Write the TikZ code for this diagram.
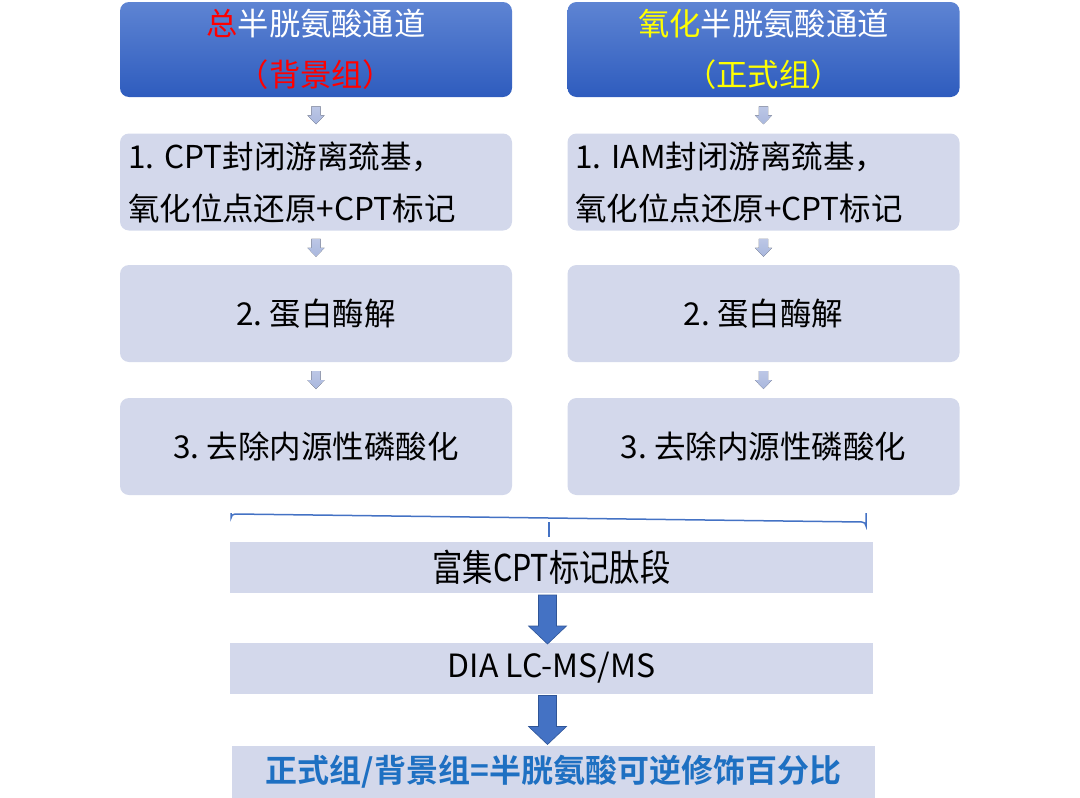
\documentclass[tikz,border=0pt]{standalone}
\usepackage{fontspec}
\setmainfont{Noto Sans CJK SC}[BoldFont={Noto Sans CJK SC Bold}]
\usetikzlibrary{calc}
\frenchspacing
\definecolor{hdrtop}{HTML}{5E84D3}
\definecolor{hdrbot}{HTML}{2E5CBE}
\definecolor{boxfill}{HTML}{D3D8EB}
\definecolor{sarr}{HTML}{A9B7DD}
\definecolor{sarrtop}{HTML}{BCC7E6}
\definecolor{barr}{HTML}{4472C4}
\definecolor{barrdark}{HTML}{2F5597}
\definecolor{bracecol}{HTML}{4472C4}
\definecolor{resblue}{HTML}{1E70C2}
\definecolor{redtxt}{HTML}{FF0000}
\definecolor{yeltxt}{HTML}{FFFF00}
\tikzset{
  hdr/.style={rounded corners=9pt, top color=hdrtop, bottom color=hdrbot, draw=none,
    minimum width=392pt, minimum height=95pt, inner sep=0pt, align=center,
    text=white, font=\fontsize{31.3}{51}\selectfont},
  stepbox/.style={rounded corners=9pt, fill=boxfill, draw=none,
    minimum width=392pt, minimum height=97pt, inner sep=0pt,
    font=\fontsize{31.5}{52}\selectfont},
  widebox/.style={fill=boxfill, draw=none, minimum width=643pt, minimum height=51pt,
    inner sep=0pt, font=\fontsize{31}{40}\selectfont},
  pics/smallarr/.style={code={
    \fill[top color=sarrtop, bottom color=sarr]
      (-4.6,-9) -- (4.6,-9) -- (4.6,0) -- (8.6,0) -- (0,9) -- (-8.6,0) -- (-4.6,0) -- cycle;
  }},
  pics/bigarr/.style={code={
    \filldraw[fill=barr, draw=barrdark, line width=0.6pt]
      (-9,-24.5) -- (9,-24.5) -- (9,6.5) -- (19,6.5) -- (0,24.5) -- (-19,6.5) -- (-9,6.5) -- cycle;
  }},
}
\begin{document}
\begin{tikzpicture}[x=1pt, y=-1pt]
\useasboundingbox (0,0) rectangle (1080,798);
% headers
\node[hdr] (hL) at (316,49.5) {\textcolor{redtxt}{总}半胱氨酸通道\\\textcolor{redtxt}{（背景组）}};
\node[hdr] (hR) at (763.5,49.5) {\textcolor{yeltxt}{氧化}半胱氨酸通道\\\textcolor{yeltxt}{（正式组）}};
% step boxes left
\node[stepbox, text width=376pt, align=left] (aL) at (316,182) {1. CPT封闭游离巯基，\\氧化位点还原+CPT标记};
\node[stepbox] (bL) at (316,313.5) {2. 蛋白酶解};
\node[stepbox] (cL) at (316,446.5) {3. 去除内源性磷酸化};
% step boxes right
\node[stepbox, text width=377pt, align=left] (aR) at (763.5,182) {1. IAM封闭游离巯基，\\氧化位点还原+CPT标记};
\node[stepbox] (bR) at (763.5,313.5) {2. 蛋白酶解};
\node[stepbox] (cR) at (763.5,446.5) {3. 去除内源性磷酸化};
% small arrows
\pic at ($(hL.south)!0.5!(aL.north)$) {smallarr};
\pic at ($(aL.south)!0.5!(bL.north)$) {smallarr};
\pic at ($(bL.south)!0.5!(cL.north)$) {smallarr};
\pic at ($(hR.south)!0.5!(aR.north)$) {smallarr};
\pic at ($(aR.south)!0.5!(bR.north)$) {smallarr};
\pic at ($(bR.south)!0.5!(cR.north)$) {smallarr};
% bottom boxes
\node[widebox] (enr) at (551.5,567) {\scalebox{0.82}[1]{\fontsize{37}{40}\selectfont 富集CPT标记肽段}};
\node[widebox] (dia) at (551.5,668) {\fontsize{32}{40}\selectfont DIA LC-MS/MS};
\node[widebox, minimum height=52pt, text=resblue] (res) at (553.5,772) {\fontsize{32}{40}\selectfont\bfseries 正式组/背景组=半胱氨酸可逆修饰百分比};
% brace
\coordinate (brL) at (231,513);
\coordinate (brR) at (866,513);
\coordinate (brM) at (549,522);
\coordinate (brT) at (549,537);
\draw[bracecol, line width=1.5pt] (brL) -- ++(0,5) arc[start angle=180, end angle=270, radius=4] -- ($(brR)+(-4,9)$) arc[start angle=-90, end angle=0, radius=4] -- (brR);
\draw[bracecol, line width=1.5pt] (brM) -- (brT);
% big arrows
\pic at (547.5,619.5) {bigarr};
\pic at (547.5,720) {bigarr};
\end{tikzpicture}
\end{document}
